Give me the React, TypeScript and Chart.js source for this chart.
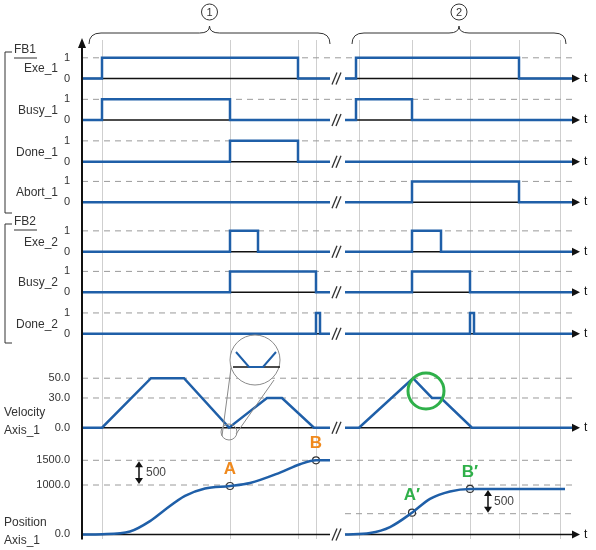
import React, { useEffect, useRef } from 'react';
import Chart from 'chart.js/auto';

// time axis in sample units; part 1 ends at 330, part 2 starts at 345 (break)
const part1 = [82, 330];
const part2 = [345, 572];
const gridTimes = [102, 230, 298, 316, 359, 412, 470, 519, 560];

const digitalRows = ['exe1', 'busy1', 'done1', 'abort1', 'exe2', 'busy2', 'done2'];
const digitalNames = ['Exe_1', 'Busy_1', 'Done_1', 'Abort_1', 'Exe_2', 'Busy_2', 'Done_2'];
// band heights in px of each row
const digitalBands = [43, 42, 42, 41, 50, 41, 42];
// high intervals [start, end] for part 1 and part 2
const pulses: number[][][] = [
    [[102, 298], [356, 519]],
    [[102, 230], [356, 412]],
    [[230, 298]],
    [[412, 519]],
    [[230, 258], [412, 441]],
    [[230, 316], [412, 470]],
    [[316, 320], [470, 474]],
];

const velT1 = [82, 102, 151, 184, 229, 267, 282, 314, 330];
const velV1 = [0, 0, 50, 50, 0, 30, 30, 0, 0];
const velT2 = [345, 359, 413, 432, 441, 472, 572];
const velV2 = [0, 0, 50, 30, 30, 0, 0];
const velTicks = [0, 30, 50];

const posT1 = [82, 102, 130, 150, 165, 185, 205, 230, 250, 280, 300, 316, 330];
const posV1 = [0, 5, 60, 270, 500, 780, 930, 980, 1040, 1250, 1420, 1500, 1500];
const posT2 = [345, 370, 390, 412, 430, 450, 470, 565];
const posV2 = [0, 30, 150, 440, 720, 870, 920, 920];
const posTicks = [0, 1000, 1500];

const markNames = ['A', 'B', 'A\u2032', 'B\u2032'];
const markT = [230, 316, 412, 470];
const markV = [980, 1500, 440, 920];
const markColors = ['#f0891c', '#f0891c', '#2fb04a', '#2fb04a'];

const BLUE = '#1f5fa8';
const FONT = '"Liberation Sans", Arial, sans-serif';

function buildDigital(ps: number[][]) {
    const pts: any[] = [];
    for (const [a, b] of [part1, part2]) {
        pts.push({ x: a, y: 0 });
        for (const [s, e] of ps) {
            if (s >= a && e <= b) {
                pts.push({ x: s, y: 0 }, { x: s, y: 1 }, { x: e, y: 1 }, { x: e, y: 0 });
            }
        }
        pts.push({ x: b, y: 0 });
        pts.push({ x: b + 1, y: null });
    }
    return pts;
}

function zip(t1: number[], v1: number[], t2: number[], v2: number[]) {
    return [
        ...t1.map((t, i) => ({ x: t, y: v1[i] })),
        { x: 337, y: null },
        ...t2.map((t, i) => ({ x: t, y: v2[i] })),
    ];
}

const decor = {
    id: 'decor',
    beforeDatasetsDraw(chart: any) {
        const { ctx, chartArea: ca, scales } = chart;
        const X = (t: number) => scales.x.getPixelForValue(t);
        const hline = (id: string, v: number, x0: number, x1: number) => {
            const y = scales[id].getPixelForValue(v);
            ctx.beginPath();
            ctx.moveTo(X(x0), y);
            ctx.lineTo(X(x1), y);
            ctx.stroke();
        };
        ctx.save();
        ctx.strokeStyle = '#9a9a9a';
        ctx.lineWidth = 1;
        ctx.setLineDash([6, 5]);
        digitalRows.forEach((id) => hline(id, 1, 82, 572));
        velTicks.slice(1).forEach((v) => hline('vel', v, 82, 572));
        hline('pos', 1500, 82, 572);
        hline('pos', 1000, 82, 572);
        hline('pos', 420, 345, 572);
        ctx.setLineDash([]);
        ctx.strokeStyle = '#111';
        ctx.lineWidth = 1.5;
        [...digitalRows, 'vel', 'pos'].forEach((id) => {
            hline(id, 0, part1[0], part1[1]);
            hline(id, 0, part2[0], part2[1]);
        });
        ctx.restore();
    },
    afterDatasetsDraw(chart: any) {
        const { ctx, chartArea: ca, scales } = chart;
        const X = (t: number) => scales.x.getPixelForValue(t);
        ctx.save();
        // y axis with arrow
        ctx.strokeStyle = '#111';
        ctx.fillStyle = '#111';
        ctx.lineWidth = 2;
        ctx.beginPath();
        ctx.moveTo(ca.left, ca.bottom);
        ctx.lineTo(ca.left, ca.top + 6);
        ctx.stroke();
        ctx.beginPath();
        ctx.moveTo(ca.left - 4, ca.top + 8);
        ctx.lineTo(ca.left + 4, ca.top + 8);
        ctx.lineTo(ca.left, ca.top - 2);
        ctx.fill();
        // right arrows, t, break marks
        ctx.font = `12px ${FONT}`;
        ctx.textBaseline = 'middle';
        ctx.textAlign = 'left';
        [...digitalRows, 'vel', 'pos'].forEach((id) => {
            const y = scales[id].getPixelForValue(0);
            ctx.fillStyle = '#111';
            ctx.beginPath();
            ctx.moveTo(572, y - 4);
            ctx.lineTo(572, y + 4);
            ctx.lineTo(580, y);
            ctx.fill();
            ctx.fillText('t', 584, y);
            const bx = X(337);
            ctx.lineWidth = 1.3;
            ctx.strokeStyle = '#333';
            for (const d of [-2, 2]) {
                ctx.beginPath();
                ctx.moveTo(bx + d - 3, y + 6);
                ctx.lineTo(bx + d + 2, y - 6);
                ctx.stroke();
            }
        });
        // row names
        ctx.fillStyle = '#333';
        ctx.textAlign = 'right';
        digitalRows.forEach((id, i) => {
            const s = scales[id];
            ctx.fillText(digitalNames[i], 58, (s.getPixelForValue(0) + s.getPixelForValue(1)) / 2 + 1);
        });
        ctx.textAlign = 'left';
        ctx.fillText('Velocity', 4, 413);
        ctx.fillText('Axis_1', 4, 431);
        ctx.fillText('Position', 4, 523);
        ctx.fillText('Axis_1', 4, 541);
        // FB brackets
        ctx.strokeStyle = '#333';
        ctx.lineWidth = 1;
        ctx.fillText('FB1', 14, 50);
        ctx.fillText('FB2', 14, 222);
        ctx.beginPath();
        ctx.moveTo(14, 58); ctx.lineTo(37, 58);
        ctx.moveTo(14, 230); ctx.lineTo(37, 230);
        ctx.moveTo(12, 52); ctx.lineTo(5, 52); ctx.lineTo(5, 213); ctx.lineTo(12, 213);
        ctx.moveTo(12, 224); ctx.lineTo(5, 224); ctx.lineTo(5, 343); ctx.lineTo(12, 343);
        ctx.stroke();
        // top braces with circled numbers
        const brace = (x0: number, x1: number, label: string) => {
            const m = (x0 + x1) / 2;
            ctx.beginPath();
            ctx.moveTo(x0, 44);
            ctx.quadraticCurveTo(x0, 33, x0 + 12, 33);
            ctx.lineTo(m - 10, 33);
            ctx.quadraticCurveTo(m, 33, m, 26);
            ctx.quadraticCurveTo(m, 33, m + 10, 33);
            ctx.lineTo(x1 - 12, 33);
            ctx.quadraticCurveTo(x1, 33, x1, 44);
            ctx.stroke();
            ctx.beginPath();
            ctx.arc(m, 12, 8, 0, Math.PI * 2);
            ctx.stroke();
            ctx.textAlign = 'center';
            ctx.font = `11px ${FONT}`;
            ctx.fillText(label, m, 12.5);
        };
        brace(89, 330, '1');
        brace(352, 566, '2');
        // magnifier
        ctx.strokeStyle = '#8a8a8a';
        ctx.lineWidth = 1;
        ctx.beginPath();
        ctx.arc(229, 432, 8, 0, Math.PI * 2);
        ctx.moveTo(222, 436); ctx.lineTo(231, 368);
        ctx.moveTo(236, 434); ctx.lineTo(274, 380);
        ctx.stroke();
        ctx.fillStyle = '#fff';
        ctx.beginPath();
        ctx.arc(255, 360, 25, 0, Math.PI * 2);
        ctx.fill();
        ctx.stroke();
        ctx.strokeStyle = '#111';
        ctx.lineWidth = 1.5;
        ctx.beginPath();
        ctx.moveTo(233, 367); ctx.lineTo(280, 367);
        ctx.stroke();
        ctx.strokeStyle = BLUE;
        ctx.lineWidth = 2;
        ctx.beginPath();
        ctx.moveTo(236, 352); ctx.lineTo(249, 367); ctx.lineTo(263, 367); ctx.lineTo(276, 352);
        ctx.stroke();
        // green circle
        ctx.strokeStyle = '#2fb04a';
        ctx.lineWidth = 3;
        ctx.beginPath();
        ctx.arc(426, 391, 18, 0, Math.PI * 2);
        ctx.stroke();
        // point labels
        ctx.font = `bold 17px ${FONT}`;
        ctx.textAlign = 'center';
        markNames.forEach((n, i) => {
            ctx.fillStyle = markColors[i];
            ctx.fillText(n, X(markT[i]), scales.pos.getPixelForValue(markV[i]) - 17);
        });
        // 500 arrows
        const dbl = (x: number, y0: number, y1: number, tx: number) => {
            ctx.strokeStyle = '#111';
            ctx.fillStyle = '#111';
            ctx.lineWidth = 1.5;
            ctx.beginPath();
            ctx.moveTo(x, y0 + 4); ctx.lineTo(x, y1 - 4);
            ctx.stroke();
            ctx.beginPath();
            ctx.moveTo(x - 4, y0 + 6); ctx.lineTo(x + 4, y0 + 6); ctx.lineTo(x, y0); ctx.fill();
            ctx.beginPath();
            ctx.moveTo(x - 4, y1 - 6); ctx.lineTo(x + 4, y1 - 6); ctx.lineTo(x, y1); ctx.fill();
            ctx.fillStyle = '#444';
            ctx.font = `12px ${FONT}`;
            ctx.textAlign = 'left';
            ctx.fillText('500', tx, (y0 + y1) / 2);
        };
        dbl(139, scales.pos.getPixelForValue(1500) + 1, scales.pos.getPixelForValue(1000) - 1, 146);
        dbl(488, scales.pos.getPixelForValue(920) + 1, scales.pos.getPixelForValue(420) - 1, 494);
        ctx.restore();
    },
};

const tickFont = { family: FONT, size: 11 };

function yAxis(min: number, max: number, weight: number, ticks: number[], fmt: (v: number) => string) {
    return {
        type: 'linear',
        position: 'left',
        stack: 'rows',
        stackWeight: weight,
        min,
        max,
        grid: { display: false },
        border: { display: false },
        afterBuildTicks: (s: any) => {
            s.ticks = ticks.map((v) => ({ value: v }));
        },
        afterFit: (s: any) => {
            s.width = 82;
        },
        ticks: { font: tickFont, color: '#333', padding: 4, callback: (v: any) => fmt(Number(v)) },
    };
}

export default function App() {
    const ref = useRef<HTMLCanvasElement>(null);

    useEffect(() => {
        if (!ref.current) return;
        const scales: any = {
            x: {
                type: 'linear',
                min: 82,
                max: 572,
                border: { display: false },
                ticks: { display: false },
                afterBuildTicks: (s: any) => {
                    s.ticks = gridTimes.map((v) => ({ value: v }));
                },
                grid: { color: '#cfcfcf', drawTicks: false, tickLength: 0 },
            },
        };
        // bottom to top (stack places later axes on top)
        scales.pos = yAxis(-100, 1900, 100, posTicks, (v) => v.toFixed(1));
        scales.vel = yAxis(-13, 91, 104, velTicks, (v) => v.toFixed(1));
        for (let i = digitalRows.length - 1; i >= 0; i--) {
            const h = digitalBands[i];
            scales[digitalRows[i]] = yAxis(-4 / 21, (h - 4) / 21, h, [0, 1], (v) => String(v));
        }
        const line = { borderColor: BLUE, borderWidth: 2.5, pointRadius: 0, spanGaps: false, fill: false };
        const datasets: any[] = digitalRows.map((id, i) => ({
            ...line,
            data: buildDigital(pulses[i]),
            yAxisID: id,
        }));
        datasets.push({ ...line, data: zip(velT1, velV1, velT2, velV2), yAxisID: 'vel' });
        datasets.push({
            ...line,
            data: zip(posT1, posV1, posT2, posV2),
            yAxisID: 'pos',
            cubicInterpolationMode: 'monotone',
        });
        datasets.push({
            data: markT.map((t, i) => ({ x: t, y: markV[i] })),
            yAxisID: 'pos',
            showLine: false,
            pointRadius: 3.5,
            pointBackgroundColor: '#fff',
            pointBorderColor: '#333',
            pointBorderWidth: 1.2,
        });
        const chart = new Chart(ref.current, {
            type: 'line',
            data: { datasets },
            options: {
                animation: false,
                responsive: false,
                layout: { padding: { top: 40, right: 24, bottom: 5, left: 0 } },
                plugins: { legend: { display: false }, tooltip: { enabled: false } },
                scales,
            },
            plugins: [decor],
        } as any);
        return () => chart.destroy();
    }, []);

    return (
        <div style={{ position: 'fixed', left: 0, top: 0, width: 596, height: 550, background: '#fff' }}>
            <canvas ref={ref} width={596} height={550} />
        </div>
    );
}
